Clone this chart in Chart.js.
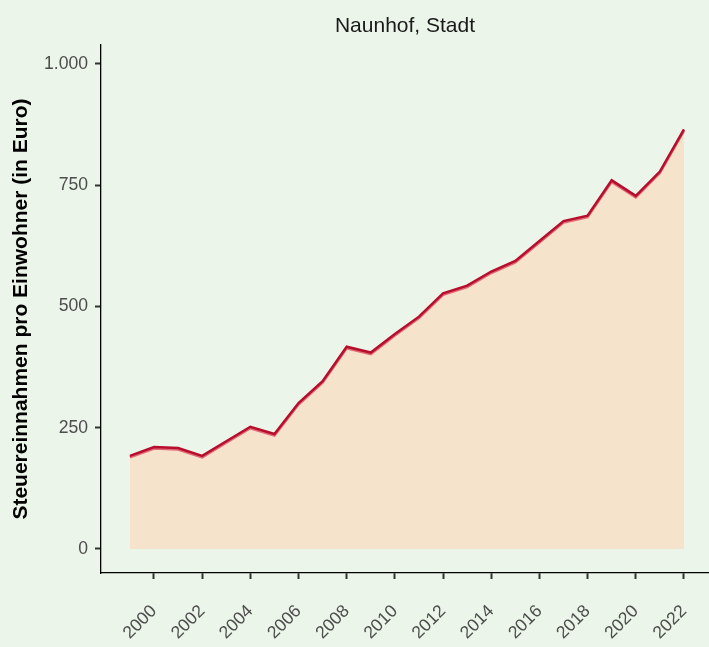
<!DOCTYPE html>
<html>
<head>
<meta charset="utf-8">
<script src="https://cdn.jsdelivr.net/npm/chart.js@4/dist/chart.umd.min.js"></script>
<style>
  html, body { margin: 0; padding: 0; background: #ecf5ea; }
  #wrap { width: 709px; height: 647px; }
</style>
</head>
<body>
<div id="wrap"><canvas id="chart" width="709" height="647"></canvas></div>
<script>
// Steuereinnahmen pro Einwohner, Naunhof (Stadt)
const years = [1999, 2000, 2001, 2002, 2003, 2004, 2005, 2006, 2007, 2008, 2009, 2010,
               2011, 2012, 2013, 2014, 2015, 2016, 2017, 2018, 2019, 2020, 2021, 2022];
const values = [192, 210, 208, 192, 222, 252, 237, 301, 346, 417, 405, 443,
                479, 527, 543, 572, 594, 635, 676, 687, 760, 728, 778, 865];
const xTicks = [2000, 2002, 2004, 2006, 2008, 2010, 2012, 2014, 2016, 2018, 2020, 2022];
const yTicks = [0, 250, 500, 750, 1000];

const chartTitle = 'Naunhof, Stadt';
const yTitle = 'Steuereinnahmen pro Einwohner (in Euro)';

const FONT = '"Liberation Sans", Arial, sans-serif';

// German thousands separator
function formatDe(v) {
    return String(v).replace(/\B(?=(\d{3})+(?!\d))/g, '.');
}

// background, title and y axis title
const decorPlugin = {
    id: 'decor',
    beforeDraw(chart) {
        const ctx = chart.ctx;
        ctx.save();
        ctx.fillStyle = '#ecf5ea';
        ctx.fillRect(0, 0, chart.width, chart.height);
        ctx.restore();
    },
    afterDraw(chart) {
        const ctx = chart.ctx;
        const area = chart.chartArea;
        ctx.save();
        ctx.fillStyle = '#1a1a1a';
        ctx.font = '21px ' + FONT;
        ctx.textAlign = 'center';
        ctx.textBaseline = 'middle';
        ctx.fillText(chartTitle, (area.left + area.right) / 2, 26);

        ctx.translate(21, (area.top + area.bottom) / 2);
        ctx.rotate(-Math.PI / 2);
        ctx.font = 'bold 21px ' + FONT;
        ctx.fillStyle = '#000000';
        ctx.fillText(yTitle, 0, 0);
        ctx.restore();
    }
};

// light red shadow under the line
const shadowPlugin = {
    id: 'lineShadow',
    beforeDatasetDraw(chart) {
        const ctx = chart.ctx;
        ctx.save();
        ctx.shadowColor = 'rgba(225, 90, 110, 0.9)';
        ctx.shadowOffsetY = 1.5;
        ctx.shadowBlur = 0;
    },
    afterDatasetDraw(chart) {
        chart.ctx.restore();
    }
};

const points = years.map((y, i) => ({ x: y, y: values[i] }));

new Chart(document.getElementById('chart'), {
    type: 'line',
    data: {
        datasets: [{
            data: points,
            borderColor: '#b50f2c',
            borderWidth: 2.5,
            backgroundColor: '#f5e3cb',
            fill: 'origin',
            pointRadius: 0,
            tension: 0
        }]
    },
    options: {
        responsive: false,
        animation: false,
        layout: { padding: { top: 45, left: 0, right: 0, bottom: 0 } },
        plugins: {
            legend: { display: false },
            tooltip: { enabled: false }
        },
        scales: {
            x: {
                type: 'linear',
                min: 1997.8,
                max: 2023.04,
                afterBuildTicks(scale) {
                    scale.ticks = xTicks.map(v => ({ value: v }));
                },
                afterFit(scale) {
                    scale.height = 74;
                    scale.paddingLeft = 0;
                    scale.paddingRight = 0;
                },
                grid: {
                    drawOnChartArea: false,
                    drawTicks: true,
                    tickLength: 6,
                    tickWidth: 2,
                    tickColor: '#333333'
                },
                border: { display: true, color: '#000000', width: 1.3 },
                ticks: {
                    minRotation: 45,
                    maxRotation: 45,
                    padding: 22,
                    color: '#4d4d4d',
                    font: { family: FONT, size: 17.6 },
                    callback: v => String(v)
                }
            },
            y: {
                min: -49.5,
                max: 1039,
                afterBuildTicks(scale) {
                    scale.ticks = yTicks.map(v => ({ value: v }));
                },
                afterFit(scale) {
                    scale.width = 101;
                    scale.paddingTop = 0;
                    scale.paddingBottom = 0;
                },
                grid: {
                    drawOnChartArea: false,
                    drawTicks: true,
                    tickLength: 6,
                    tickWidth: 2,
                    tickColor: '#333333'
                },
                border: { display: true, color: '#000000', width: 1.3 },
                ticks: {
                    padding: 7,
                    color: '#4d4d4d',
                    font: { family: FONT, size: 17.6 },
                    callback: v => formatDe(v)
                }
            }
        }
    },
    plugins: [decorPlugin, shadowPlugin]
});
</script>
</body>
</html>
